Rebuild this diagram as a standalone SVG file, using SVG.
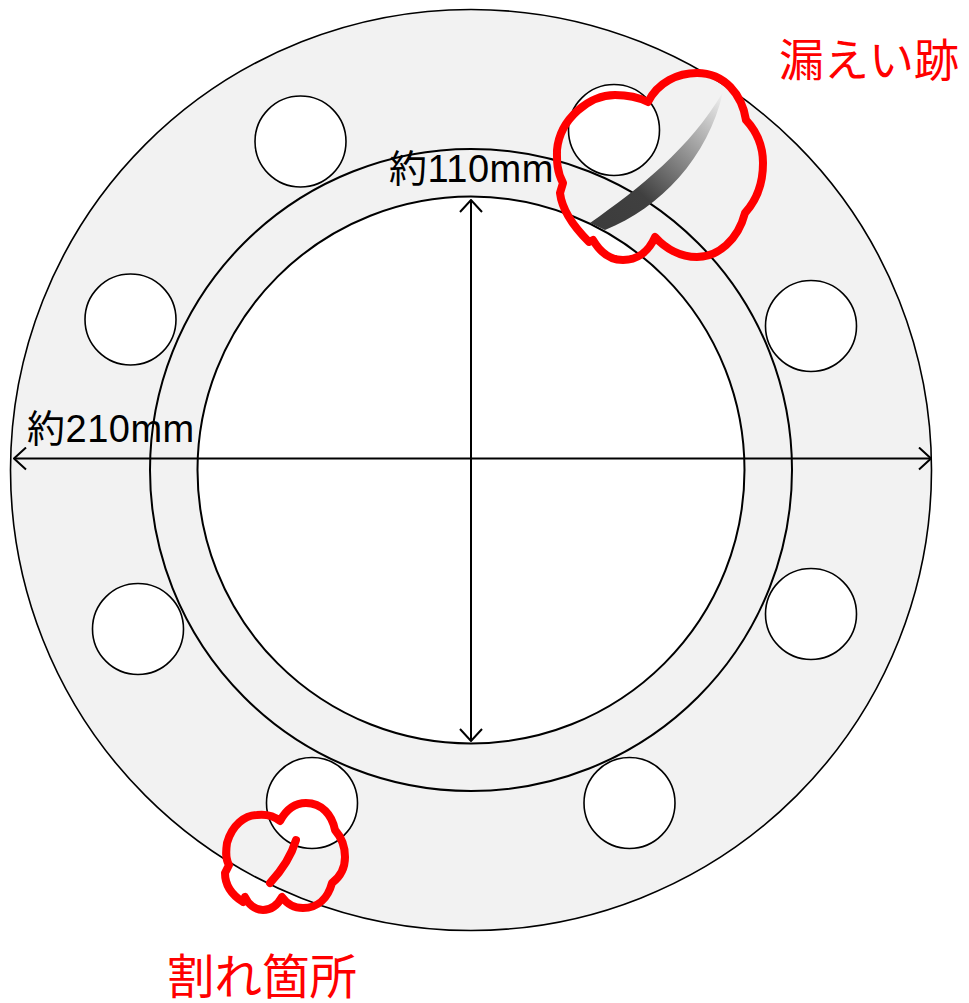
<svg xmlns="http://www.w3.org/2000/svg" width="969" height="1003" viewBox="0 0 969 1003">
<style>
.line{fill:none;stroke:#000;stroke-width:2}
.hole{fill:#fff;stroke:#000;stroke-width:1.6}
.cloud{fill:none;stroke:#f00;stroke-width:8;stroke-linecap:round;stroke-linejoin:round}
text{font-family:"Liberation Sans","Noto Sans CJK JP",sans-serif}
.dim{font-size:38px;fill:#000;letter-spacing:.5px}
.red{font-size:45px;fill:#f00}
</style>
<defs>
<marker id="open" viewBox="0 0 14 24" refX="13" refY="12" markerWidth="14" markerHeight="24" markerUnits="userSpaceOnUse" orient="auto-start-reverse"><path d="M1 1L13 12L1 23" fill="none" stroke="#000" stroke-width="2"/></marker>
<linearGradient id="streak" gradientUnits="userSpaceOnUse" x1="596" y1="228" x2="723" y2="92"><stop offset="0" stop-color="#3c3c3c"/><stop offset=".3" stop-color="#404040"/><stop offset="1" stop-color="#f2f2f2"/></linearGradient>
</defs>
<rect width="969" height="1003" fill="#fff"/>
<g id="flange">
<circle cx="471" cy="470" r="460.500" fill="#f2f2f2" stroke="#000" stroke-width="1.600"/>
<circle cx="471" cy="470" r="321" fill="none" stroke="#000" stroke-width="2"/>
<circle cx="471" cy="470" r="273.500" fill="#fff" stroke="#000" stroke-width="2"/>
</g>
<g id="holes">
<circle id="hole1" class="hole" cx="300.500" cy="141.500" r="45.500"/>
<circle id="hole2" class="hole" cx="130.500" cy="319.500" r="45.500"/>
<circle id="hole3" class="hole" cx="138" cy="629" r="45.500"/>
<circle id="hole4" class="hole" cx="312" cy="803" r="45.500"/>
<circle id="hole5" class="hole" cx="629.500" cy="803" r="45.500"/>
<circle id="hole6" class="hole" cx="811" cy="614" r="45.500"/>
<circle id="hole7" class="hole" cx="811" cy="326" r="45.500"/>
<circle id="hole8" class="hole" cx="614" cy="130" r="45.500"/>
</g>
<g id="connectors">
<line class="line" x1="14" y1="458.500" x2="931" y2="458.500" marker-start="url(#open)" marker-end="url(#open)"/>
<line class="line" x1="471" y1="200" x2="471" y2="741" marker-start="url(#open)" marker-end="url(#open)"/>
</g>
<g id="leak-mark">
<path d="M590 223C640 188 690 148 723 92C708 158 660 208 605 230Z" fill="url(#streak)"/>
<path class="cloud" d="M648 102C658 82 678 73 697 73C725 73 742 95 746 120C760 135 763 150 763 163C763 185 755 202 745 213C738 240 718 257 697 257C680 257 665 248 655 237C648 253 636 260 623 260C610 260 600 252 593 240L589 242C572 225 562 210 560 193L563 183C556 170 557 158 557 150C560 118 590 95 615 95C628 95 640 98 648 102Z"/>
</g>
<g id="crack-mark">
<path class="cloud" d="M280 821C287 808 297 803 306 803C322 803 332 815 335 830C342 838 345 848 345 857C345 868 340 877 332 883C328 898 318 908 303 908C293 908 287 904 282 897C277 906 270 910 263 910C255 910 248 904 245 897L243 902C232 895 225 885 225 873L229 865C225 858 226 850 227 843C232 825 245 815 257 815C266 814 274 816 280 821Z"/>
<path class="cloud" d="M296 840C291 857 282 870 270 883" stroke-linecap="butt"/>
</g>
<g id="labels">
<text class="dim" x="389" y="182">約110mm</text>
<text class="dim" x="27" y="442">約210mm</text>
<text class="red" x="779" y="77">漏えい跡</text>
<text class="red" x="167" y="994" style="font-size:47.500px">割れ箇所</text>
</g>
</svg>
